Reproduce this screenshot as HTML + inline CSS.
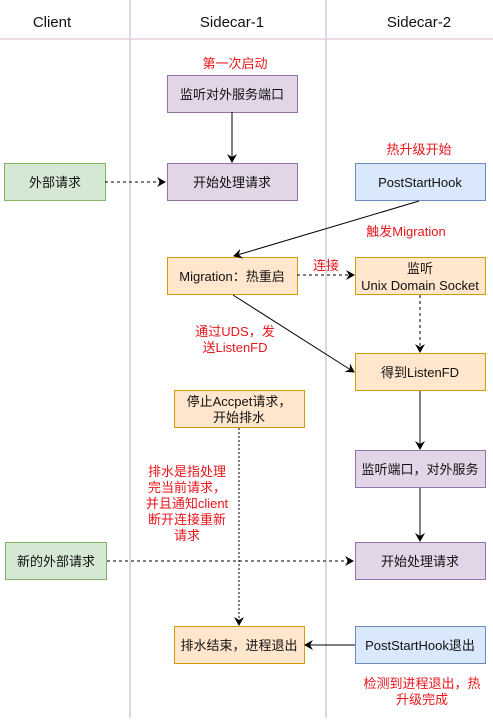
<!DOCTYPE html>
<html><head><meta charset="utf-8"><style>
body{margin:0;background:#fff;font-family:"Liberation Sans","Noto Sans CJK SC",sans-serif;}
svg text{font-family:"Liberation Sans","Noto Sans CJK SC",sans-serif;}
</style></head><body>
<svg width="493" height="723" viewBox="0 0 493 723" xmlns="http://www.w3.org/2000/svg">
<defs>
<marker id="a" markerWidth="10" markerHeight="10" refX="8" refY="5" orient="auto" markerUnits="userSpaceOnUse"><path d="M0,0 L9,5 L0,10 L3,5 z" fill="#000"/></marker>
</defs>
<line x1="130" y1="0" x2="130" y2="718" stroke="#d8c8dc" stroke-width="1.5"/>
<line x1="326" y1="0" x2="326" y2="718" stroke="#d8c8dc" stroke-width="1.5"/>
<line x1="0" y1="39" x2="493" y2="39" stroke="#e6cddb" stroke-width="1.5"/>
<g font-size="15" text-anchor="middle" fill="#111">
<text x="52" y="27">Client</text><text x="232" y="27">Sidecar-1</text><text x="419" y="27">Sidecar-2</text>
</g>
<g stroke-width="1">
<rect x="167.5" y="75.5" width="130" height="37" fill="#e1d5e7" stroke="#9673a6"/>
<rect x="167.5" y="163.5" width="130" height="37" fill="#e1d5e7" stroke="#9673a6"/>
<rect x="4.5" y="163.5" width="101" height="37" fill="#d5e8d4" stroke="#82b366"/>
<rect x="355.5" y="163.5" width="130" height="37" fill="#dae8fc" stroke="#6c8ebf"/>
<rect x="167.5" y="257.5" width="130" height="37" fill="#ffe6cc" stroke="#d79b00"/>
<rect x="355.5" y="257.5" width="130" height="37" fill="#ffe6cc" stroke="#d79b00"/>
<rect x="355.5" y="353.5" width="130" height="37" fill="#ffe6cc" stroke="#d79b00"/>
<rect x="174.5" y="390.5" width="130" height="37" fill="#ffe6cc" stroke="#d79b00"/>
<rect x="355.5" y="450.5" width="130" height="37" fill="#e1d5e7" stroke="#9673a6"/>
<rect x="355.5" y="542.5" width="130" height="37" fill="#e1d5e7" stroke="#9673a6"/>
<rect x="5.5" y="542.5" width="101" height="37" fill="#d5e8d4" stroke="#82b366"/>
<rect x="174.5" y="626.5" width="130" height="37" fill="#ffe6cc" stroke="#d79b00"/>
<rect x="355.5" y="626.5" width="130" height="37" fill="#dae8fc" stroke="#6c8ebf"/>
</g>
<g font-size="13" text-anchor="middle" fill="#111">
<text x="232" y="99">监听对外服务端口</text>
<text x="232" y="187">开始处理请求</text>
<text x="55" y="187">外部请求</text>
<text x="420" y="187">PostStartHook</text>
<text x="232" y="281">Migration：热重启</text>
<text x="420" y="273">监听</text>
<text x="420" y="290">Unix Domain Socket</text>
<text x="420" y="377">得到ListenFD</text>
<text x="239" y="406">停止Accpet请求，</text>
<text x="239" y="422">开始排水</text>
<text x="420" y="474">监听端口，对外服务</text>
<text x="420" y="566">开始处理请求</text>
<text x="56" y="566">新的外部请求</text>
<text x="239" y="650">排水结束，进程退出</text>
<text x="420" y="650">PostStartHook退出</text>
</g>
<g font-size="13" text-anchor="middle" fill="#e8161b">
<text x="235" y="68">第一次启动</text>
<text x="419" y="154">热升级开始</text>
<text x="406" y="236">触发Migration</text>
<text x="326" y="270">连接</text>
<text x="235" y="336">通过UDS，发</text>
<text x="235" y="352">送ListenFD</text>
<text x="187" y="476">排水是指处理</text>
<text x="187" y="492">完当前请求，</text>
<text x="187" y="508">并且通知client</text>
<text x="187" y="524">断开连接重新</text>
<text x="187" y="540">请求</text>
<text x="422" y="688">检测到进程退出，热</text>
<text x="422" y="704">升级完成</text>
</g>
<g stroke="#000" fill="none" stroke-width="1">
<line x1="232" y1="112" x2="232" y2="162" marker-end="url(#a)"/>
<line x1="105" y1="182" x2="165" y2="182" stroke-dasharray="3,3" marker-end="url(#a)"/>
<line x1="419" y1="201" x2="234" y2="256" marker-end="url(#a)"/>
<line x1="297" y1="275" x2="354" y2="275" stroke-dasharray="3,3" marker-end="url(#a)"/>
<line x1="420" y1="295" x2="420" y2="352" stroke-dasharray="3,3" marker-end="url(#a)"/>
<line x1="233" y1="295" x2="354" y2="372" marker-end="url(#a)"/>
<line x1="420" y1="391" x2="420" y2="449" marker-end="url(#a)"/>
<line x1="420" y1="488" x2="420" y2="541" marker-end="url(#a)"/>
<line x1="107" y1="561" x2="353" y2="561" stroke-dasharray="3,3" marker-end="url(#a)"/>
<line x1="239" y1="428" x2="239" y2="625" stroke-dasharray="2,2" marker-end="url(#a)"/>
<line x1="355" y1="645" x2="305" y2="645" marker-end="url(#a)"/>
</g>
</svg>
</body></html>
